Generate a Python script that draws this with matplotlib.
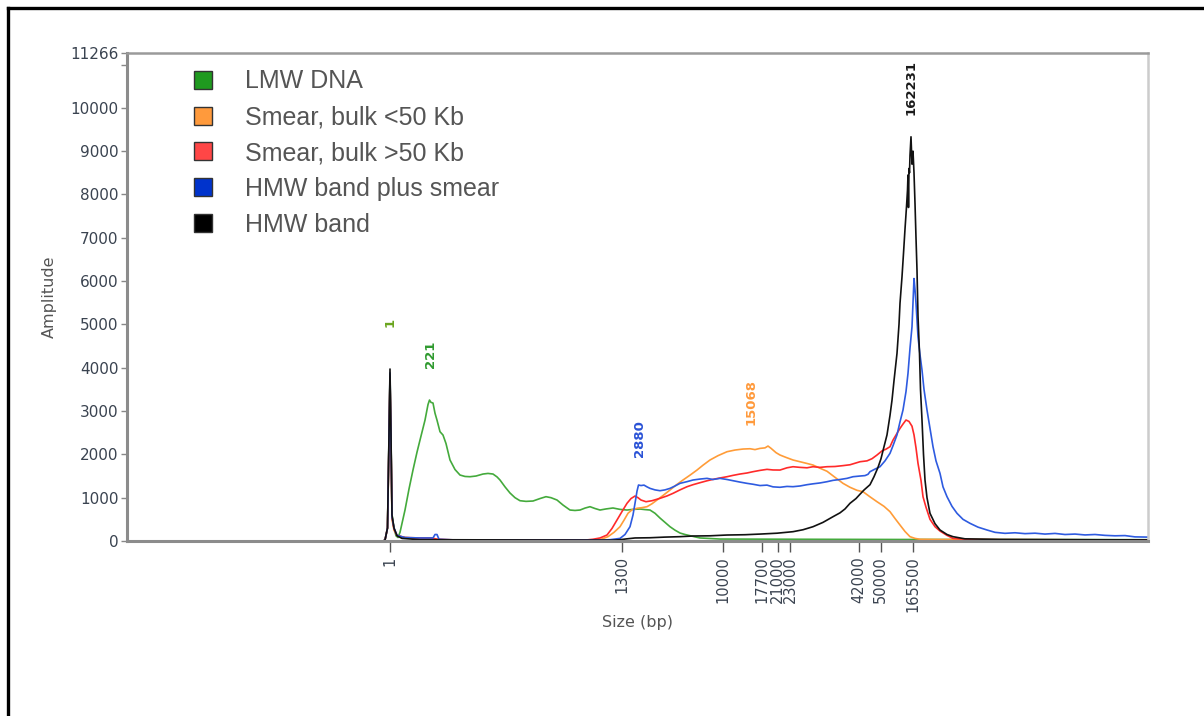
import matplotlib.pyplot as plt
from matplotlib.lines import Line2D

# x axis is the scan position of the electropherogram; sizes are ladder labels
size_labels = ["1", "1300", "10000", "17700", "21000", "23000", "42000", "50000", "165500"]
size_pos = [390, 622, 722.7, 762, 777.7, 790, 859, 880.7, 912.7]

series_names = ["LMW DNA", "Smear, bulk <50 Kb", "Smear, bulk >50 Kb",
                "HMW band plus smear", "HMW band"]

# LMW DNA (green)
lmw_pos = [383, 385, 387.5, 389, 390, 391, 392, 394, 396, 398, 400, 405, 409, 413, 417,
           420, 425, 428, 429.5, 431, 433, 435, 437, 440, 443, 446, 450, 455, 460, 465,
           470, 476, 483, 488, 493, 497, 500, 505, 510, 515, 520, 526, 533, 540, 546,
           551, 557, 563, 570, 575, 580, 585, 590, 595, 600, 606, 613, 620, 627, 633,
           640, 645, 650, 655, 660, 665, 670, 675, 680, 685, 690, 695, 700, 720, 800,
           900, 1000, 1148]
lmw_amp = [0, 20, 300, 2400, 3850, 2400, 600, 300, 120, 80, 200, 715, 1200, 1640, 2050,
           2330, 2790, 3150, 3254, 3200, 3185, 2950, 2790, 2523, 2446, 2250, 1870, 1650,
           1523, 1490, 1484, 1500, 1546, 1560, 1546, 1480, 1408, 1250, 1108, 1000, 930,
           915, 923, 980, 1023, 1000, 946, 830, 715, 705, 715, 760, 792, 750, 715, 740,
           762, 730, 715, 730, 738, 725, 715, 640, 530, 430, 330, 250, 184, 150, 123, 95,
           70, 45, 40, 35, 35, 30]

# Smear, bulk <50 Kb (orange)
lt50_pos = [383, 385, 387.5, 389, 390, 391, 392, 394, 397, 405, 420, 432, 440, 460, 590,
            600, 608, 614, 620, 624, 628, 632, 637, 642, 647, 652, 657, 663, 670, 676,
            683, 690, 697, 703, 710, 718, 727, 735, 743, 750, 755, 760, 765, 768, 771,
            776, 780, 786, 793, 800, 807, 813, 820, 827, 835, 843, 850, 857, 863, 870,
            877, 884, 890, 895, 900, 905, 910, 915, 920, 960, 1148]
lt50_amp = [0, 20, 300, 2300, 3800, 2300, 500, 250, 120, 80, 60, 60, 30, 20, 20, 30, 100,
            200, 330, 480, 640, 720, 755, 770, 792, 860, 946, 1050, 1177, 1290, 1408,
            1520, 1638, 1750, 1870, 1970, 2061, 2100, 2123, 2130, 2110, 2138, 2150, 2192,
            2140, 2040, 1985, 1930, 1870, 1830, 1790, 1754, 1680, 1610, 1470, 1331, 1240,
            1170, 1138, 1020, 907, 800, 677, 520, 369, 220, 100, 60, 40, 30, 25]

# Smear, bulk >50 Kb (red)
gt50_pos = [383, 385, 387.5, 389, 390, 391, 392, 394, 397, 405, 420, 432, 437, 460, 585,
            593, 600, 607, 612, 617, 622, 627, 631, 635, 638, 641, 646, 652, 660, 667,
            673, 680, 687, 693, 700, 707, 713, 720, 727, 733, 740, 747, 753, 760, 767,
            773, 780, 787, 793, 800, 807, 813, 820, 827, 835, 843, 850, 860, 867, 872,
            877, 882, 886, 890, 893, 897, 900, 903, 906, 909, 912, 914, 916, 918, 921,
            923, 926, 930, 935, 940, 947, 953, 970, 1000, 1148]
gt50_amp = [0, 20, 300, 2300, 3780, 2300, 550, 280, 130, 80, 70, 70, 40, 20, 20, 40, 70,
            138, 290, 485, 680, 870, 980, 1038, 1000, 946, 907, 930, 985, 1040, 1100,
            1180, 1253, 1300, 1346, 1390, 1423, 1455, 1484, 1515, 1546, 1570, 1600, 1630,
            1654, 1640, 1638, 1690, 1715, 1700, 1690, 1715, 1700, 1715, 1720, 1740, 1760,
            1830, 1850, 1900, 1985, 2080, 2120, 2177, 2330, 2485, 2600, 2700, 2793, 2760,
            2650, 2450, 2150, 1793, 1400, 1023, 780, 500, 330, 230, 130, 60, 35, 30, 25]

# HMW band plus smear (blue)
hmws_pos = [383, 385, 387.5, 389, 390, 391, 392, 394, 397, 405, 420, 433, 435, 437, 439,
            460, 600, 610, 620, 625, 630, 633, 635, 637, 638.5, 641, 644, 647, 650, 655,
            660, 665, 670, 675, 680, 687, 693, 700, 707, 713, 720, 727, 733, 740, 747,
            753, 760, 767, 773, 780, 787, 793, 800, 807, 813, 820, 827, 833, 840, 847,
            853, 860, 865, 868, 870, 875, 880, 885, 890, 893, 897, 900, 903, 906, 908,
            910, 912, 913, 914, 915, 916, 918, 920, 922, 924, 927, 930, 933, 936, 940,
            943, 947, 952, 957, 963, 970, 978, 987, 995, 1005, 1015, 1025, 1035, 1045,
            1055, 1065, 1075, 1085, 1095, 1105, 1115, 1125, 1135, 1148]
hmws_amp = [0, 20, 300, 2350, 3880, 2350, 560, 300, 130, 80, 70, 70, 150, 150, 40, 20,
            20, 30, 60, 150, 330, 600, 870, 1150, 1292, 1280, 1290, 1250, 1215, 1180,
            1161, 1180, 1215, 1270, 1331, 1370, 1408, 1430, 1446, 1420, 1446, 1420, 1392,
            1360, 1331, 1310, 1280, 1290, 1250, 1240, 1260, 1254, 1270, 1300, 1320, 1340,
            1369, 1400, 1420, 1446, 1484, 1500, 1510, 1540, 1600, 1660, 1715, 1850, 2024,
            2200, 2450, 2750, 3024, 3450, 3870, 4450, 4946, 5500, 6060, 5800, 5486, 4715,
            4300, 3946, 3500, 3024, 2600, 2177, 1850, 1562, 1250, 1023, 800, 639, 500, 408,
            320, 254, 200, 177, 190, 170, 180, 160, 175, 150, 160, 140, 150, 130, 120, 125,
            95, 90]

# HMW band (black)
hmw_pos = [383, 385, 387.5, 389, 390, 391, 392, 394, 397, 402, 420, 600, 613, 620, 627,
           635, 650, 665, 680, 693, 710, 727, 745, 760, 777, 793, 803, 813, 823, 833,
           840, 845, 850, 856, 860, 864, 870, 874, 878, 881, 884, 887, 890, 892, 894,
           897, 899, 900, 902, 903.5, 905, 906.5, 907.5, 908, 908.5, 909, 909.5, 910,
           911, 912, 913, 914, 915, 916, 917, 918, 919.5, 920.5, 922, 923.5, 925, 927,
           930, 935, 940, 947, 953, 965, 1000, 1148]
hmw_amp = [0, 20, 300, 2450, 3970, 2450, 600, 300, 120, 60, 30, 20, 20, 30, 50, 70, 75,
           90, 100, 115, 120, 138, 145, 160, 180, 215, 260, 330, 430, 561, 650, 740, 870,
           980, 1080, 1177, 1300, 1484, 1700, 1900, 2177, 2450, 2900, 3250, 3700, 4332,
           5000, 5486, 6100, 6640, 7200, 7716, 8100, 8450, 7700, 8600, 8500, 8900, 9332,
           8700, 9000, 8500, 7794, 7000, 6255, 5200, 4332, 3500, 2793, 2000, 1408, 1000,
           639, 400, 254, 150, 100, 50, 35, 25]

# called peaks
peak_labels = ["1", "221", "2880", "15068", "162231"]
peak_pos = [390, 430.5, 640, 751, 911.5]
peak_label_amp = [4940, 3990, 1940, 2680, 9830]
peak_colors = ["#6aa51e", "#2f9a2f", "#2a52d6", "#ff9a3c", "#1a1a1a"]

trace_colors = ["#44aa3c", "#ff9c38", "#ff2a2a", "#2e5be0", "#111111"]
legend_colors = ["#1f9a1f", "#ff9a3c", "#ff4646", "#0033cc", "#000000"]

fig = plt.figure(figsize=(12.04, 7.16), dpi=100)
ax = fig.add_axes([127 / 1204, 175 / 716, 1021 / 1204, 488 / 716])

traces = [(lmw_pos, lmw_amp), (lt50_pos, lt50_amp), (gt50_pos, gt50_amp),
          (hmws_pos, hmws_amp), (hmw_pos, hmw_amp)]
for (xs, ys), c in zip(traces, trace_colors):
    ax.plot(xs, ys, color=c, lw=1.2, solid_joinstyle="round")

for lab, x, y, c in zip(peak_labels, peak_pos, peak_label_amp, peak_colors):
    ax.text(x, y, lab, rotation=90, ha="center", va="bottom", color=c,
            fontsize=9.5, fontweight="bold")

ax.set_xlim(127, 1148)
ax.set_ylim(0, 11266)

ax.set_xticks(size_pos)
ax.set_xticklabels(size_labels, rotation=90, fontsize=10.5, color="#3a4350")
ax.tick_params(axis="x", length=8, width=1, color="#555555", pad=3)

ax.set_yticks([0, 1000, 2000, 3000, 4000, 5000, 6000, 7000, 8000, 9000, 10000, 11266])
ax.set_yticklabels(["0", "1000", "2000", "3000", "4000", "5000", "6000", "7000", "8000",
                    "9000", "10000", "11266"], fontsize=11, color="#3a4350")
ax.set_yticks([11000], minor=True)
ax.tick_params(axis="y", which="both", length=4, width=1, color="#888888", pad=2)

for side in ["left", "bottom"]:
    ax.spines[side].set_color("#8c8c8c")
    ax.spines[side].set_linewidth(2.2)
ax.spines["top"].set_color("#9a9a9a")
ax.spines["top"].set_linewidth(1.8)
ax.spines["right"].set_color("#cccccc")
ax.spines["right"].set_linewidth(1.8)

ax.set_ylabel("Amplitude", fontsize=11.5, color="#555555", labelpad=10)
ax.set_xlabel("Size (bp)", fontsize=11.5, color="#555555", labelpad=2)

handles = [Line2D([], [], ls="none", marker="s", markersize=13, markerfacecolor=c,
                  markeredgecolor="#333333", markeredgewidth=1) for c in legend_colors]
fig.legend(handles, series_names, loc="upper left", bbox_to_anchor=(180 / 1204, 1 - 57 / 716),
           frameon=False, borderpad=0, handlelength=0.8, handletextpad=1.3,
           labelspacing=0.47, prop={"family": "Liberation Sans", "size": 18},
           labelcolor="#555555")

# outer black frame (top and left edges)
fig.add_artist(Line2D([8 / 1204, 1], [1 - 8 / 716, 1 - 8 / 716], color="black", lw=2.4,
                      transform=fig.transFigure))
fig.add_artist(Line2D([8 / 1204, 8 / 1204], [0, 1 - 8 / 716], color="black", lw=2.4,
                      transform=fig.transFigure))

fig.savefig("out.png", dpi=100)
